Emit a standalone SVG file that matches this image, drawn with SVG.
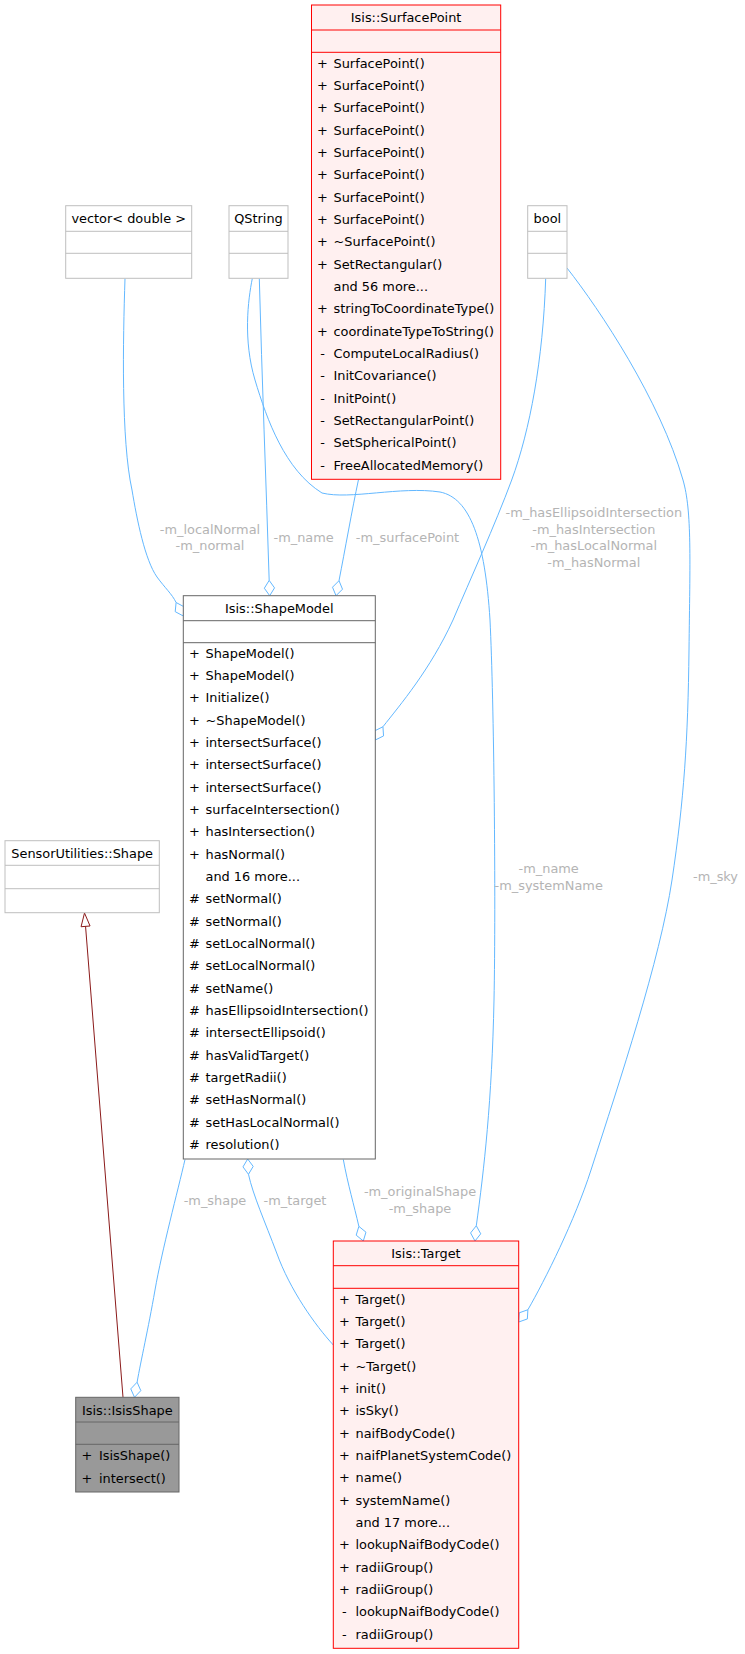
<svg xmlns="http://www.w3.org/2000/svg" width="745" height="1654" viewBox="0 0 745 1654">
<style>
text{font-family:'DejaVu Sans','Liberation Sans',sans-serif;font-size:12.9px;fill:#000}
.c{text-anchor:middle}
.lbl{fill:#b4b4b4;text-anchor:middle}
.e{fill:none;stroke:#63b8ff;stroke-width:1}
.inh{fill:none;stroke:#8b1a1a;stroke-width:1}
.plain{fill:#fff;stroke:#bfbfbf}
.trunc{fill:#fff0f0;stroke:#ff0000}
.main{fill:#fff;stroke:#666}
.self{fill:#999;stroke:#666}
</style>
<rect width="745" height="1654" fill="#fff"/>
<g id="connectors">
<path class="e" d="M125,278.5 C123,340 121,440 132,490 C137,520 145,560 157,577 C165,588 172,594 176.1,602.5"/>
<polygon class="e" points="183.3,616 184.19,606.87 176.1,602.5 175.21,611.67"/>
<path class="e" d="M259.3,278.5 C262,380 266,480 269.18,580.4"/>
<polygon class="e" points="269.7,595.7 274.54,587.89 269.18,580.4 264.34,588.23"/>
<path class="e" d="M252.3,278.5 C248,300 243,340 255,380 C267,420 285,470 322,493 C350,500 400,486 440,492 C470,498 485,540 490,620 C494,700 496,900 494,1000 C492,1100 484,1170 476.3,1225.76"/>
<polygon class="e" points="475,1241 480.73,1233.81 476.3,1225.76 470.57,1232.95"/>
<path class="e" d="M358.5,479.5 C352,510 345,550 339,580.7"/>
<polygon class="e" points="336,595.7 342.5,589.2 339,580.7 332.5,587.2"/>
<path class="e" d="M545.7,278.5 C543,360 530,430 511.7,480 C495,525 470,580 453,620 C430,670 400,705 382.95,726.75"/>
<polygon class="e" points="375.3,740 383.55,735.93 382.95,726.75 374.71,730.83"/>
<path class="e" d="M567,268 C600,310 660,400 683,480 C692,511 690,560 689,650 C688,740 684,800 672,880 C660,960 620,1080 591,1170 C575,1220 545,1280 527.88,1309.76"/>
<polygon class="e" points="518.7,1322 527.37,1318.94 527.88,1309.76 519.21,1312.82"/>
<path class="e" d="M185,1159.5 C178,1190 162,1250 155,1290 C148,1330 141,1360 137.1,1382.2"/>
<polygon class="e" points="134.5,1397.3 140.82,1390.63 137.1,1382.2 130.78,1388.89"/>
<path class="e" d="M333.3,1345 C315,1325 290,1290 276.7,1253 C265,1222 253,1195 248.47,1174.3"/>
<polygon class="e" points="247.7,1159 253.18,1166.4 248.47,1174.3 242.98,1166.9"/>
<path class="e" d="M343.3,1159.5 C348,1185 354,1205 358.86,1226.36"/>
<polygon class="e" points="363.3,1241 365.96,1232.2 358.86,1226.36 356.2,1235.16"/>
<path class="inh" d="M123,1397.3 L85.56,926.36"/>
<polygon class="inh" points="84.5,913 90.05,926 81.07,926.72"/>
<text class="lbl" x="210" y="533.5">-m_localNormal</text>
<text class="lbl" x="210" y="550.2">-m_normal</text>
<text class="lbl" x="303.6" y="541.8">-m_name</text>
<text class="lbl" x="407.5" y="541.8">-m_surfacePoint</text>
<text class="lbl" x="593.8" y="516.8">-m_hasEllipsoidIntersection</text>
<text class="lbl" x="593.8" y="533.5">-m_hasIntersection</text>
<text class="lbl" x="593.8" y="550.2">-m_hasLocalNormal</text>
<text class="lbl" x="593.8" y="566.8">-m_hasNormal</text>
<text class="lbl" x="548.7" y="873">-m_name</text>
<text class="lbl" x="548.7" y="889.5">-m_systemName</text>
<text class="lbl" x="715.5" y="880.5">-m_sky</text>
<text class="lbl" x="215" y="1204.5">-m_shape</text>
<text class="lbl" x="295" y="1204.5">-m_target</text>
<text class="lbl" x="420" y="1196.2">-m_originalShape</text>
<text class="lbl" x="420" y="1212.9">-m_shape</text>
</g>
<g id="vector">
<rect class="plain" x="65.7" y="205.7" width="126" height="72.6"/>
<path class="plain" d="M65.7,231.3 H191.7 M65.7,253.3 H191.7"/>
<text class="c" x="128.7" y="222.9">vector&lt; double &gt;</text>
</g>
<g id="qstring">
<rect class="plain" x="229" y="205.7" width="59" height="72.6"/>
<path class="plain" d="M229,231.3 H288 M229,253.3 H288"/>
<text class="c" x="258.5" y="222.9">QString</text>
</g>
<g id="bool">
<rect class="plain" x="527.7" y="205.7" width="39.3" height="72.6"/>
<path class="plain" d="M527.7,231.3 H567 M527.7,253.3 H567"/>
<text class="c" x="547.35" y="222.9">bool</text>
</g>
<g id="shape">
<rect class="plain" x="5" y="840.7" width="154.3" height="72"/>
<path class="plain" d="M5,865.3 H159.3 M5,888.7 H159.3"/>
<text class="c" x="82.15" y="857.7">SensorUtilities::Shape</text>
</g>
<g id="surfacepoint">
<rect class="trunc" x="311.5" y="5" width="189.2" height="474.3"/>
<path class="trunc" d="M311.5,30 H500.7 M311.5,52.3 H500.7"/>
<text class="c" x="406.1" y="22">Isis::SurfacePoint</text>
<g class="c">
<text x="322.5" y="67.6">+</text><text x="322.5" y="89.93">+</text><text x="322.5" y="112.27">+</text><text x="322.5" y="134.6">+</text><text x="322.5" y="156.93">+</text><text x="322.5" y="179.27">+</text><text x="322.5" y="201.6">+</text><text x="322.5" y="223.93">+</text><text x="322.5" y="246.27">+</text><text x="322.5" y="268.6">+</text><text x="322.5" y="313.27">+</text><text x="322.5" y="335.6">+</text><text x="322.5" y="357.93">-</text><text x="322.5" y="380.27">-</text><text x="322.5" y="402.6">-</text><text x="322.5" y="424.93">-</text><text x="322.5" y="447.27">-</text><text x="322.5" y="469.6">-</text>
</g>
<text x="333.5" y="67.6">SurfacePoint()</text>
<text x="333.5" y="89.93">SurfacePoint()</text>
<text x="333.5" y="112.27">SurfacePoint()</text>
<text x="333.5" y="134.6">SurfacePoint()</text>
<text x="333.5" y="156.93">SurfacePoint()</text>
<text x="333.5" y="179.27">SurfacePoint()</text>
<text x="333.5" y="201.6">SurfacePoint()</text>
<text x="333.5" y="223.93">SurfacePoint()</text>
<text x="333.5" y="246.27">~SurfacePoint()</text>
<text x="333.5" y="268.6">SetRectangular()</text>
<text x="333.5" y="290.93">and 56 more...</text>
<text x="333.5" y="313.27">stringToCoordinateType()</text>
<text x="333.5" y="335.6">coordinateTypeToString()</text>
<text x="333.5" y="357.93">ComputeLocalRadius()</text>
<text x="333.5" y="380.27">InitCovariance()</text>
<text x="333.5" y="402.6">InitPoint()</text>
<text x="333.5" y="424.93">SetRectangularPoint()</text>
<text x="333.5" y="447.27">SetSphericalPoint()</text>
<text x="333.5" y="469.6">FreeAllocatedMemory()</text>
</g>
<g id="shapemodel">
<rect class="main" x="183.3" y="595.7" width="192" height="563.3"/>
<path class="main" d="M183.3,620.7 H375.3 M183.3,642.7 H375.3"/>
<text class="c" x="279.3" y="612.9">Isis::ShapeModel</text>
<g class="c">
<text x="194.3" y="657.6">+</text><text x="194.3" y="679.93">+</text><text x="194.3" y="702.27">+</text><text x="194.3" y="724.6">+</text><text x="194.3" y="746.93">+</text><text x="194.3" y="769.27">+</text><text x="194.3" y="791.6">+</text><text x="194.3" y="813.93">+</text><text x="194.3" y="836.27">+</text><text x="194.3" y="858.6">+</text>
<text x="194.3" y="903.27">#</text><text x="194.3" y="925.6">#</text><text x="194.3" y="947.93">#</text><text x="194.3" y="970.27">#</text><text x="194.3" y="992.6">#</text><text x="194.3" y="1014.93">#</text><text x="194.3" y="1037.27">#</text><text x="194.3" y="1059.6">#</text><text x="194.3" y="1081.93">#</text><text x="194.3" y="1104.27">#</text><text x="194.3" y="1126.6">#</text><text x="194.3" y="1148.93">#</text>
</g>
<text x="205.5" y="657.6">ShapeModel()</text>
<text x="205.5" y="679.93">ShapeModel()</text>
<text x="205.5" y="702.27">Initialize()</text>
<text x="205.5" y="724.6">~ShapeModel()</text>
<text x="205.5" y="746.93">intersectSurface()</text>
<text x="205.5" y="769.27">intersectSurface()</text>
<text x="205.5" y="791.6">intersectSurface()</text>
<text x="205.5" y="813.93">surfaceIntersection()</text>
<text x="205.5" y="836.27">hasIntersection()</text>
<text x="205.5" y="858.6">hasNormal()</text>
<text x="205.5" y="880.93">and 16 more...</text>
<text x="205.5" y="903.27">setNormal()</text>
<text x="205.5" y="925.6">setNormal()</text>
<text x="205.5" y="947.93">setLocalNormal()</text>
<text x="205.5" y="970.27">setLocalNormal()</text>
<text x="205.5" y="992.6">setName()</text>
<text x="205.5" y="1014.93">hasEllipsoidIntersection()</text>
<text x="205.5" y="1037.27">intersectEllipsoid()</text>
<text x="205.5" y="1059.6">hasValidTarget()</text>
<text x="205.5" y="1081.93">targetRadii()</text>
<text x="205.5" y="1104.27">setHasNormal()</text>
<text x="205.5" y="1126.6">setHasLocalNormal()</text>
<text x="205.5" y="1148.93">resolution()</text>
</g>
<g id="isisshape">
<rect class="self" x="75.7" y="1397.3" width="103.3" height="94.7"/>
<path class="self" d="M75.7,1422 H179 M75.7,1444.3 H179"/>
<text class="c" x="127.35" y="1414.5">Isis::IsisShape</text>
<text class="c" x="87" y="1460.3">+</text><text class="c" x="87" y="1482.6">+</text>
<text x="99" y="1460.3">IsisShape()</text>
<text x="99" y="1482.6">intersect()</text>
</g>
<g id="target">
<rect class="trunc" x="333.3" y="1241" width="185.4" height="407.3"/>
<path class="trunc" d="M333.3,1265.7 H518.7 M333.3,1288.3 H518.7"/>
<text class="c" x="426" y="1258.3">Isis::Target</text>
<g class="c">
<text x="344.3" y="1303.6">+</text><text x="344.3" y="1325.93">+</text><text x="344.3" y="1348.27">+</text><text x="344.3" y="1370.6">+</text><text x="344.3" y="1392.93">+</text><text x="344.3" y="1415.27">+</text><text x="344.3" y="1437.6">+</text><text x="344.3" y="1459.93">+</text><text x="344.3" y="1482.27">+</text><text x="344.3" y="1504.6">+</text><text x="344.3" y="1549.27">+</text><text x="344.3" y="1571.6">+</text><text x="344.3" y="1593.93">+</text><text x="344.3" y="1616.27">-</text><text x="344.3" y="1638.6">-</text>
</g>
<text x="355.5" y="1303.6">Target()</text>
<text x="355.5" y="1325.93">Target()</text>
<text x="355.5" y="1348.27">Target()</text>
<text x="355.5" y="1370.6">~Target()</text>
<text x="355.5" y="1392.93">init()</text>
<text x="355.5" y="1415.27">isSky()</text>
<text x="355.5" y="1437.6">naifBodyCode()</text>
<text x="355.5" y="1459.93">naifPlanetSystemCode()</text>
<text x="355.5" y="1482.27">name()</text>
<text x="355.5" y="1504.6">systemName()</text>
<text x="355.5" y="1526.93">and 17 more...</text>
<text x="355.5" y="1549.27">lookupNaifBodyCode()</text>
<text x="355.5" y="1571.6">radiiGroup()</text>
<text x="355.5" y="1593.93">radiiGroup()</text>
<text x="355.5" y="1616.27">lookupNaifBodyCode()</text>
<text x="355.5" y="1638.6">radiiGroup()</text>
</g>
</svg>
